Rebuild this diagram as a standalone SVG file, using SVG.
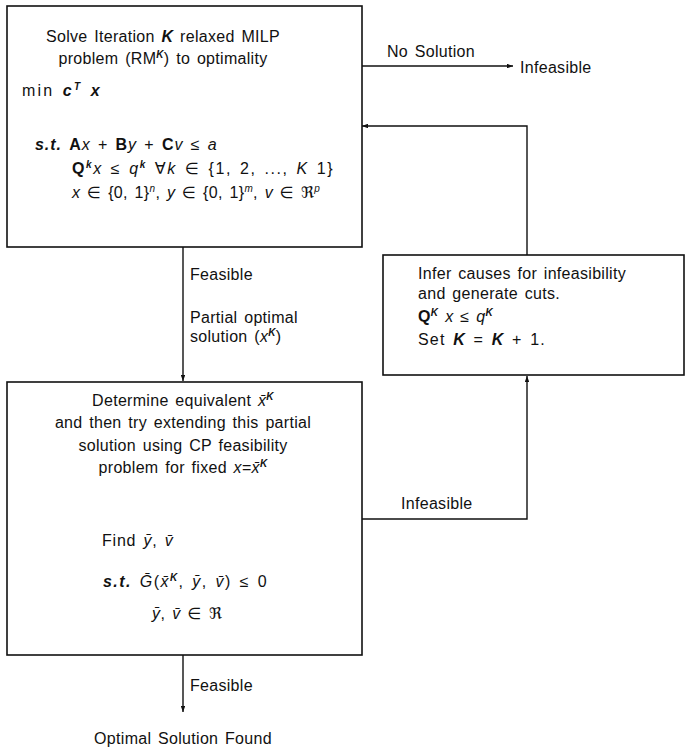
<svg xmlns="http://www.w3.org/2000/svg" width="686" height="747" viewBox="0 0 686 747">
  <style>
    .box { fill: #fff; stroke: #111; stroke-width: 1.6; }
    .edge { fill: none; stroke: #111; stroke-width: 1.4; }
    text { font-family: "Liberation Sans", Arial, "DejaVu Sans", sans-serif; font-size: 16px; letter-spacing: 0.3px; word-spacing: 2px; fill: #111; }
    .i { font-style: italic; }
    .b { font-weight: bold; }
    .bi { font-weight: bold; font-style: italic; }
    .s { font-size: 10px; }
  </style>
  <defs>
    <marker id="arrow" viewBox="0 0 8 6" refX="8" refY="3" markerWidth="6" markerHeight="4.5" markerUnits="userSpaceOnUse" orient="auto">
      <path d="M0,0 L8,3 L0,6 z" fill="#111"/>
    </marker>
  </defs>

  <rect width="686" height="747" fill="#fff"/>

  <!-- connectors and their labels -->
  <g id="connectors">
    <path class="edge" d="M362,66 H513" marker-end="url(#arrow)"/>
    <path class="edge" d="M527,255 V126 H362" marker-end="url(#arrow)"/>
    <path class="edge" d="M183,247 V381" marker-end="url(#arrow)"/>
    <path class="edge" d="M362,519 H527 V376" marker-end="url(#arrow)"/>
    <path class="edge" d="M183,655 V712" marker-end="url(#arrow)"/>
    <text x="387" y="57">No Solution</text>
    <text x="520" y="73">Infeasible</text>
    <text x="190" y="280">Feasible</text>
    <text x="190" y="323">Partial optimal</text>
    <text x="190" y="342">solution (<tspan class="i">x</tspan><tspan class="s bi" dy="-6">K</tspan><tspan dy="6">)</tspan></text>
    <text x="401" y="509">Infeasible</text>
    <text x="190" y="691">Feasible</text>
    <text x="183" y="744" text-anchor="middle">Optimal Solution Found</text>
  </g>

  <!-- relaxed master problem -->
  <g id="relaxed-milp">
    <rect class="box" x="7" y="6" width="355" height="241"/>
    <text x="163" y="42" text-anchor="middle">Solve Iteration <tspan class="bi">K</tspan> relaxed MILP</text>
    <text x="163" y="64" text-anchor="middle">problem (RM<tspan class="s bi" dy="-6">K</tspan><tspan dy="6">) to optimality</tspan></text>
    <text x="22" y="96" textLength="78" lengthAdjust="spacing">min  <tspan class="bi">c</tspan><tspan class="s bi" dy="-6">T</tspan><tspan class="bi" dy="6"> x</tspan></text>
    <text x="35" y="150" textLength="182" lengthAdjust="spacing"><tspan class="bi">s.t.</tspan>  <tspan class="b">A</tspan><tspan class="i">x</tspan> + <tspan class="b">B</tspan><tspan class="i">y</tspan> + <tspan class="b">C</tspan><tspan class="i">v</tspan> ≤ <tspan class="i">a</tspan></text>
    <text x="72" y="174" textLength="261" lengthAdjust="spacing"><tspan class="b">Q</tspan><tspan class="s bi" dy="-6">k</tspan><tspan class="i" dy="6">x</tspan> ≤ <tspan class="i">q</tspan><tspan class="s bi" dy="-6">k</tspan><tspan dy="6">   ∀</tspan><tspan class="i">k</tspan> ∈ {1, 2, ..., <tspan class="i">K</tspan>   1}</text>
    <text x="72" y="198" textLength="248" lengthAdjust="spacing"><tspan class="i">x</tspan> ∈ {0, 1}<tspan class="s i" dy="-6">n</tspan><tspan dy="6">, </tspan><tspan class="i">y</tspan> ∈ {0, 1}<tspan class="s i" dy="-6">m</tspan><tspan dy="6">, </tspan><tspan class="i">v</tspan> ∈ ℜ<tspan class="s i" dy="-6">p</tspan></text>
  </g>

  <!-- cut generation -->
  <g id="infer-cuts">
    <rect class="box" x="383" y="255" width="301" height="120"/>
    <text x="418" y="279">Infer causes for infeasibility</text>
    <text x="418" y="299">and generate cuts.</text>
    <text x="418" y="322" textLength="75" lengthAdjust="spacing"><tspan class="b">Q</tspan><tspan class="s bi" dy="-6">K</tspan><tspan class="i" dy="6"> x</tspan> ≤ <tspan class="i">q</tspan><tspan class="s bi" dy="-6">K</tspan></text>
    <text x="418" y="345" textLength="127" lengthAdjust="spacing">Set <tspan class="bi">K</tspan> = <tspan class="bi">K</tspan> + 1.</text>
  </g>

  <!-- CP feasibility subproblem -->
  <g id="cp-subproblem">
    <rect class="box" x="7" y="382" width="355" height="273"/>
    <text x="183" y="406" text-anchor="middle">Determine equivalent <tspan class="i">x̄</tspan><tspan class="s bi" dy="-6">K</tspan></text>
    <text x="183" y="428" text-anchor="middle">and then try extending this partial</text>
    <text x="183" y="451" text-anchor="middle">solution using CP feasibility</text>
    <text x="183" y="473" text-anchor="middle">problem for fixed <tspan class="i">x</tspan>=<tspan class="i">x̄</tspan><tspan class="s bi" dy="-6">K</tspan></text>
    <text x="102" y="546" textLength="71" lengthAdjust="spacing">Find  <tspan class="i">ȳ</tspan>, <tspan class="i">v̄</tspan></text>
    <text x="103" y="587" textLength="164" lengthAdjust="spacing"><tspan class="bi">s.t.</tspan>  <tspan class="i">Ḡ</tspan>(<tspan class="i">x̄</tspan><tspan class="s bi" dy="-6">K</tspan><tspan dy="6">, </tspan><tspan class="i">ȳ</tspan>, <tspan class="i">v̄</tspan>) ≤ 0</text>
    <text x="152" y="619" textLength="70" lengthAdjust="spacing"><tspan class="i">ȳ</tspan>, <tspan class="i">v̄</tspan> ∈ ℜ</text>
  </g>
</svg>
